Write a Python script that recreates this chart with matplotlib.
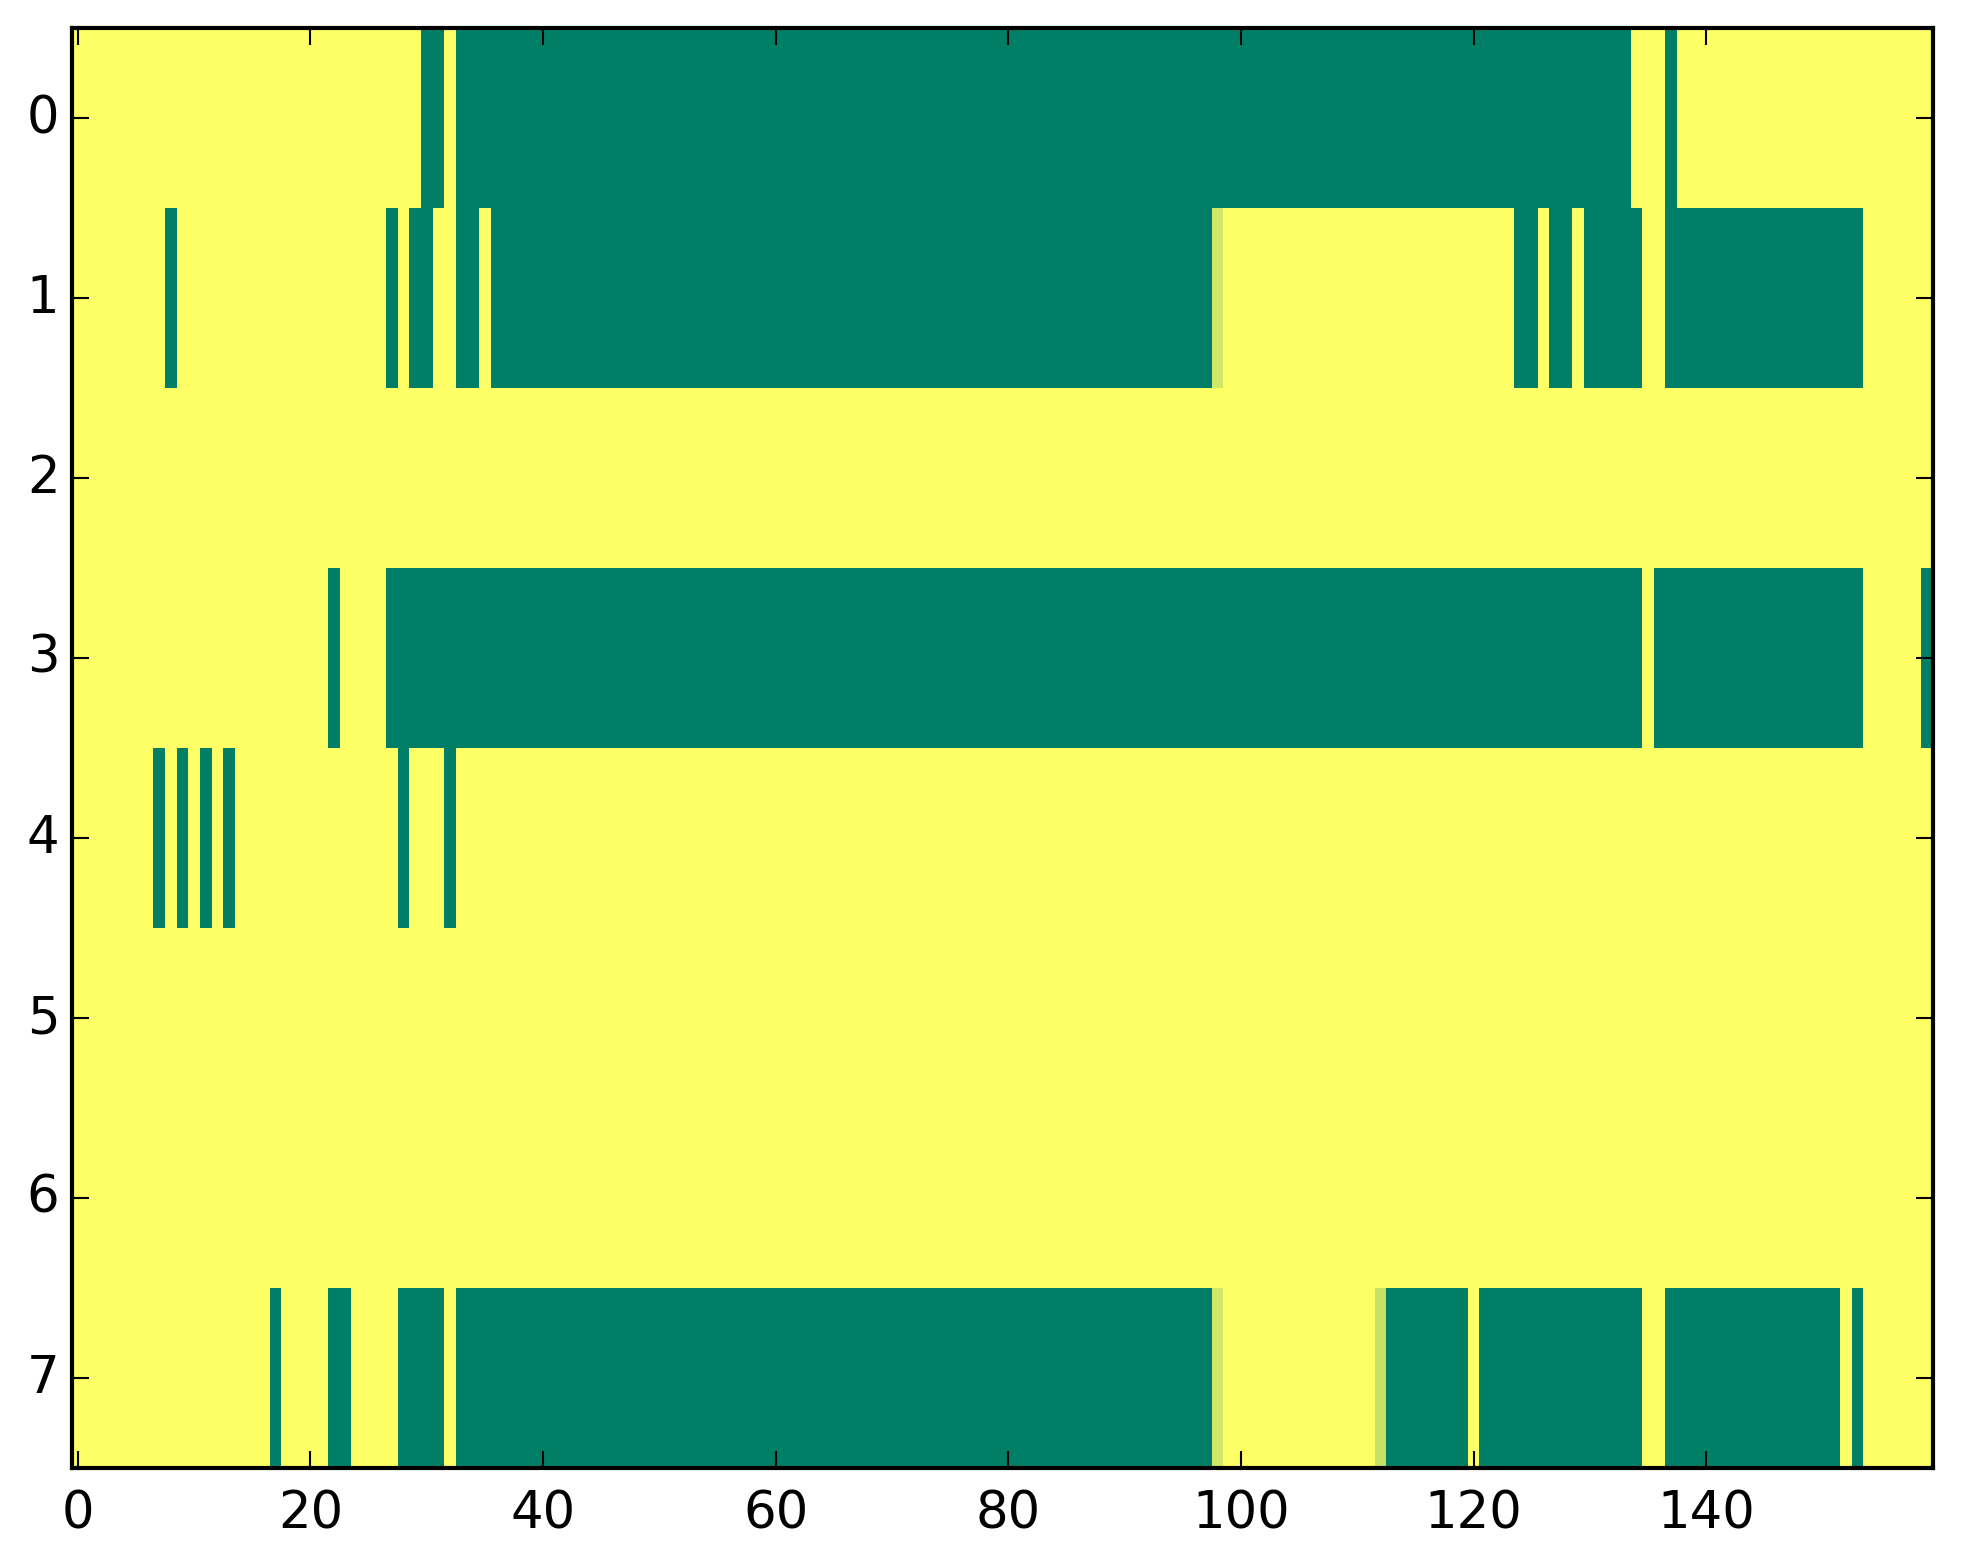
import matplotlib
matplotlib.use("Agg")
import matplotlib.pyplot as plt
import numpy as np

plt.style.use("classic")

N_ROWS = 8
N_COLS = 160

# green (value 0) runs per row, inclusive column ranges; everything else is 1
GREEN_ROW0 = [(30, 31), (33, 133), (137, 137)]
GREEN_ROW1 = [(8, 8), (27, 27), (29, 30), (33, 34), (36, 97),
              (124, 125), (127, 128), (130, 134), (137, 153)]
GREEN_ROW2 = []
GREEN_ROW3 = [(22, 22), (27, 134), (136, 153), (159, 159)]
GREEN_ROW4 = [(7, 7), (9, 9), (11, 11), (13, 13), (28, 28), (32, 32)]
GREEN_ROW5 = []
GREEN_ROW6 = []
GREEN_ROW7 = [(17, 17), (22, 23), (28, 31), (33, 97), (113, 119),
              (121, 134), (137, 151), (153, 153)]

# cells with an in-between value: (row, col, value)
PARTIAL_CELLS = [(1, 98, 0.82), (7, 98, 0.82), (7, 112, 0.77)]

X_TICKS = [0, 20, 40, 60, 80, 100, 120, 140]
Y_TICKS = [0, 1, 2, 3, 4, 5, 6, 7]

green_runs = [GREEN_ROW0, GREEN_ROW1, GREEN_ROW2, GREEN_ROW3,
              GREEN_ROW4, GREEN_ROW5, GREEN_ROW6, GREEN_ROW7]

grid = np.ones((N_ROWS, N_COLS))
for row, runs in enumerate(green_runs):
    for start, stop in runs:
        grid[row, start:stop + 1] = 0.0
for row, col, value in PARTIAL_CELLS:
    grid[row, col] = value

W, H, DPI = 1963, 1564, 300
fig = plt.figure(figsize=(W / DPI, H / DPI), dpi=DPI, facecolor="white")
ax = fig.add_axes([72 / W, 1 - 1469 / H, (1933 - 72) / W, (1469 - 29) / H])

ax.imshow(grid, cmap="summer", vmin=0, vmax=1, aspect="auto",
          interpolation="nearest")
ax.set_xlim(-0.5, N_COLS - 0.5)
ax.set_ylim(N_ROWS - 0.5, -0.5)
ax.set_xticks(X_TICKS)
ax.set_yticks(Y_TICKS)
ax.tick_params(labelsize=12.3)
ax.tick_params(axis="y", pad=3)
ax.tick_params(axis="x", pad=5)

fig.savefig("out.png", dpi=DPI, facecolor="white")
